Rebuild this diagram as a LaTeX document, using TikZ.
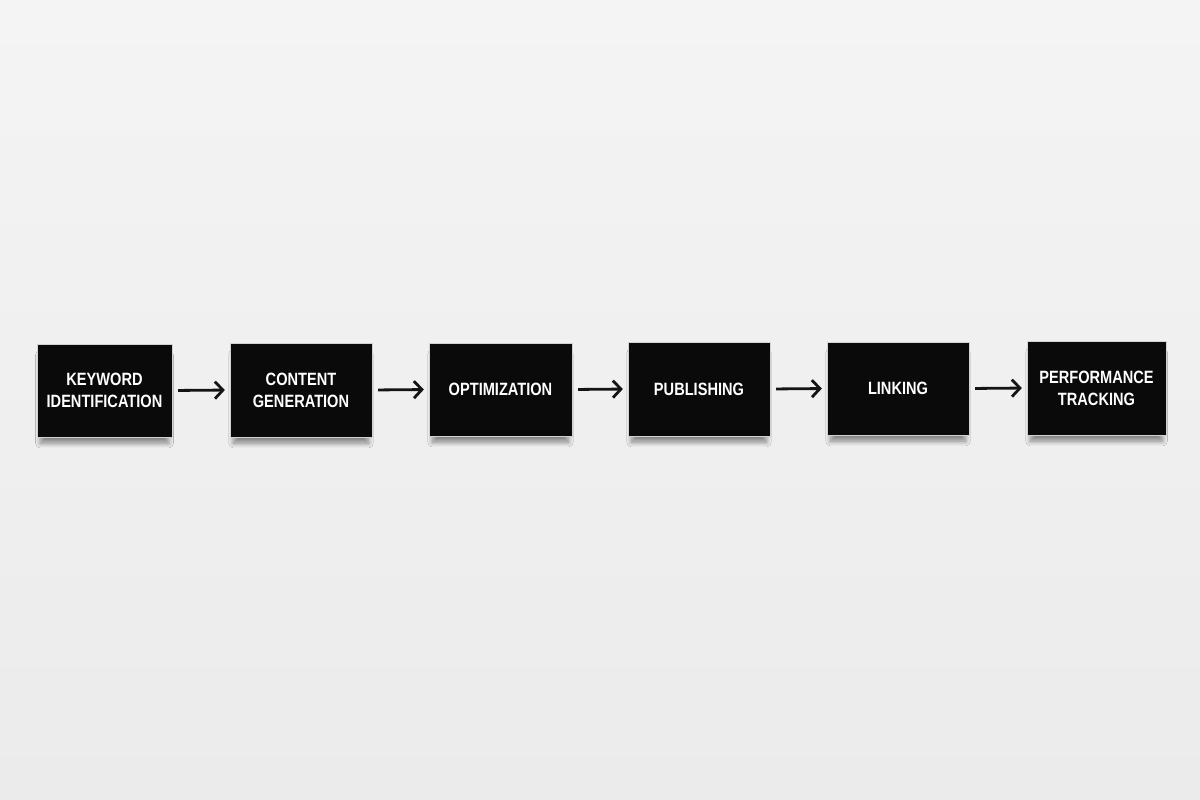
\documentclass[tikz,border=0pt]{standalone}
\usepackage{fontspec}
\newfontfamily\boxfont{Liberation Sans Bold}[FakeStretch=0.82]
\usetikzlibrary{arrows.meta,shadows.blur}
\definecolor{bgtop}{HTML}{F4F4F4}
\definecolor{bgbot}{HTML}{EBEBEB}
\definecolor{boxblack}{HTML}{0A0A0A}
\tikzset{
  stepbox/.style={fill=boxblack, draw=gray!35, line width=0.3pt, inner sep=0pt,
    text=white, align=center,
    font=\boxfont\fontsize{17.8}{22}\selectfont,
    blur shadow={shadow xshift=0pt, shadow yshift=-9pt, shadow scale=0.95, shadow blur steps=14, shadow blur radius=5pt, shadow opacity=45}},
  arr/.style={draw=black!92, line width=2.8pt, -{Straight Barb[length=8pt,width=17pt]},
    shorten <=6pt, shorten >=5pt}
}
\begin{document}
\begin{tikzpicture}[x=1pt,y=-1pt]
\shade[top color=bgtop, bottom color=bgbot] (0,0) rectangle (1200,800);
\useasboundingbox (0,0) rectangle (1200,800);
\node[stepbox, minimum width=135pt, minimum height=93pt] (k1) at (104.5,390.5) {KEYWORD\\IDENTIFICATION};
\node[stepbox, minimum width=142pt, minimum height=94pt] (k2) at (301,390) {CONTENT\\GENERATION};
\node[stepbox, minimum width=143pt, minimum height=93pt] (k3) at (500.5,389.5) {OPTIMIZATION};
\node[stepbox, minimum width=142pt, minimum height=94pt] (k4) at (699,389) {PUBLISHING};
\node[stepbox, minimum width=142pt, minimum height=93pt] (k5) at (898,388.5) {LINKING};
\node[stepbox, minimum width=139pt, minimum height=94pt] (k6) at (1096.5,388) {PERFORMANCE\\TRACKING};
\draw[arr] (k1.east) -- (k2.west);
\draw[arr] (k2.east) -- (k3.west);
\draw[arr] (k3.east) -- (k4.west);
\draw[arr] (k4.east) -- (k5.west);
\draw[arr] (k5.east) -- (k6.west);
\end{tikzpicture}
\end{document}
